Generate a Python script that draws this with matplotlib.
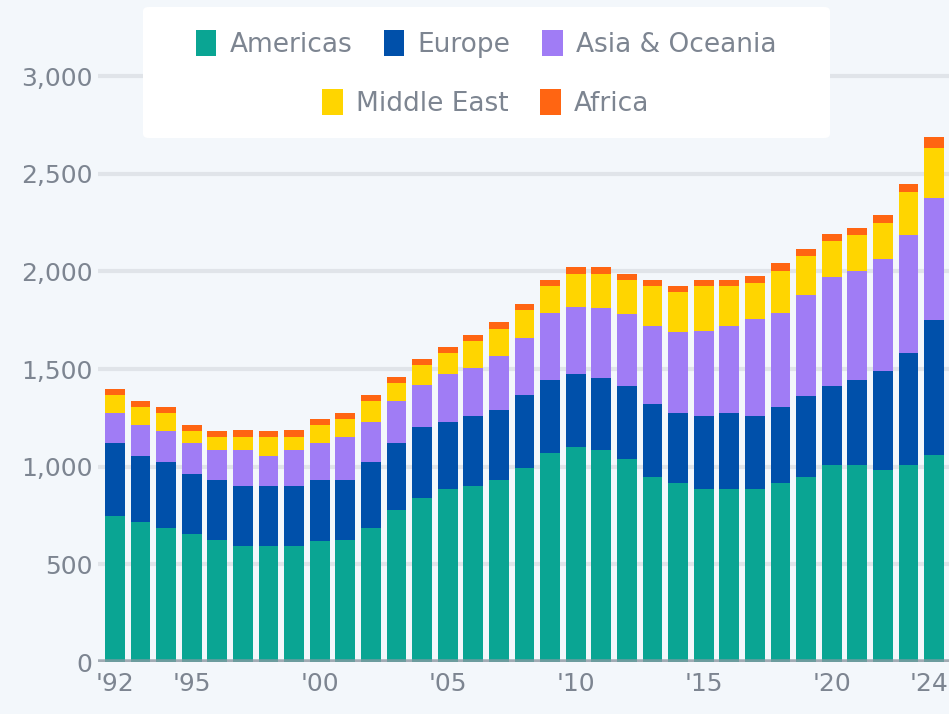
import matplotlib.pyplot as plt
import matplotlib.transforms as mtransforms
import numpy as np
from matplotlib.patches import Patch, FancyBboxPatch

years = list(range(1992, 2025))
tick_years = [1992, 1995, 2000, 2005, 2010, 2015, 2020, 2024]
tick_labels = ["'92", "'95", "'00", "'05", "'10", "'15", "'20", "'24"]

americas = [748, 717, 686, 655, 625, 594, 594, 594, 620, 625, 686, 778, 840, 886, 901, 932, 993,
            1070, 1101, 1085, 1039, 947, 917, 886, 886, 886, 917, 947, 1009, 1009, 983, 1009, 1060]
europe = [374, 338, 338, 307, 307, 307, 307, 307, 312, 307, 338, 343, 364, 343, 358, 358, 374,
          374, 374, 369, 374, 374, 358, 374, 389, 374, 389, 415, 404, 435, 507, 573, 691]
asia_oceania = [154, 159, 159, 159, 154, 184, 154, 184, 189, 220, 205, 215, 215, 246, 246, 276, 292,
                343, 343, 358, 369, 399, 415, 435, 445, 497, 481, 517, 558, 558, 573, 604, 625]
middle_east = [92, 92, 92, 61, 67, 67, 97, 67, 92, 92, 107, 92, 102, 108, 138, 138, 143,
               138, 169, 174, 174, 205, 205, 230, 205, 184, 215, 200, 184, 184, 184, 220, 255]
africa = [31, 31, 31, 31, 31, 36, 31, 36, 31, 31, 31, 31, 31, 31, 31, 36, 31,
          31, 36, 36, 31, 31, 31, 31, 31, 36, 41, 36, 36, 36, 41, 41, 55]

series = [("Americas", americas, "#0AA593"),
          ("Europe", europe, "#0050AA"),
          ("Asia & Oceania", asia_oceania, "#A07CF5"),
          ("Middle East", middle_east, "#FFD500"),
          ("Africa", africa, "#FF6512")]

bg = "#F3F7FB"
txt = "#7D8591"

W, H = 949, 714
fig = plt.figure(figsize=(W / 100, H / 100), dpi=100)
fig.patch.set_facecolor(bg)

# axes box in pixel terms: left 98, right edge of figure, baseline at y=662
ymax = 3100
px_per_unit = 0.1953
top_px = 662 - ymax * px_per_unit
ax = fig.add_axes([98 / W, (H - 662) / H, 1 - 98 / W, (662 - top_px) / H])
ax.set_facecolor(bg)

x = np.arange(len(years))
bottom = np.zeros(len(years))
for name, vals, col in series:
    ax.bar(x, vals, bottom=bottom, width=0.77, color=col, zorder=2, linewidth=0)
    bottom += np.array(vals)

ax.set_xlim(-0.66, 32.58)
ax.set_ylim(0, ymax)
ax.set_yticks([0, 500, 1000, 1500, 2000, 2500, 3000])
ax.set_yticklabels(["0", "500", "1,000", "1,500", "2,000", "2,500", "3,000"])
ax.grid(axis="y", color="#E0E4E9", linewidth=3, zorder=0)
ax.axhline(0, color="#8E99A3", linewidth=4, alpha=0.75, zorder=3)

tick_pos = [years.index(y) for y in tick_years]
ax.set_xticks(tick_pos)
ax.set_xticklabels(tick_labels)
ax.tick_params(axis="both", length=0, labelsize=18, colors=txt)
ax.tick_params(axis="y", pad=4)
ax.tick_params(axis="x", pad=7)
for s in ax.spines.values():
    s.set_visible(False)
# keep the last year label inside the picture
last = ax.get_xticklabels()[-1]
last.set_transform(last.get_transform() + mtransforms.ScaledTranslation(-4 / 72, 0, fig.dpi_scale_trans))

# white legend panel
box = FancyBboxPatch((143 / W, (H - 138) / H), (830 - 143) / W, 131 / H,
                     boxstyle="round,pad=0,rounding_size=0.006", transform=fig.transFigure,
                     facecolor="white", edgecolor="none", zorder=5)
fig.patches.append(box)

handles = [Patch(facecolor=c, edgecolor="none", label=n) for n, v, c in series]
kw = dict(loc="center", frameon=False, fontsize=19, handlelength=0.78, handleheight=1.15,
          handletextpad=0.5, columnspacing=1.2, labelcolor=txt)
leg1 = fig.legend(handles=handles[:3], bbox_to_anchor=(486 / W, 1 - 44 / H), ncol=3, **kw)
leg2 = fig.legend(handles=handles[3:], bbox_to_anchor=(486 / W, 1 - 103 / H), ncol=2, **kw)
leg1.set_zorder(6)
leg2.set_zorder(6)

fig.savefig("out.png", dpi=100, facecolor=bg)
